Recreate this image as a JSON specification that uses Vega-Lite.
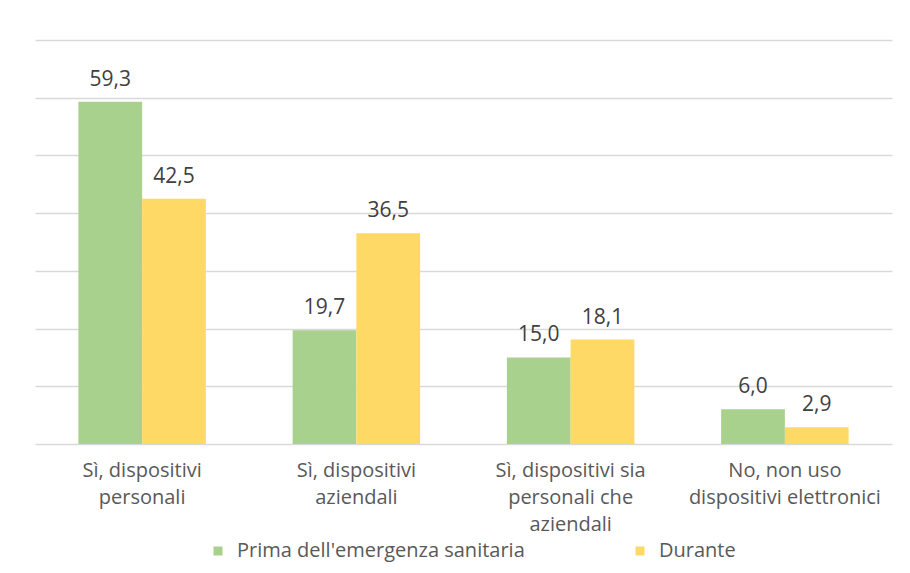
{
  "$schema": "https://vega.github.io/schema/vega-lite/v6.json",
  "width": 857,
  "height": 404,
  "autosize": {"type": "none"},
  "padding": {"left": 35, "top": 40, "right": 18, "bottom": 129},
  "background": "white",
  "config": {
    "locale": {"number": {"decimal": ",", "thousands": ".", "grouping": [3], "currency": ["€", ""]}},
    "view": {"stroke": null},
    "font": "Open Sans"
  },
  "data": {
    "values": [
      {"categoria": "Sì, dispositivi personali", "periodo": "Prima dell'emergenza sanitaria", "valore": 59.3},
      {"categoria": "Sì, dispositivi personali", "periodo": "Durante", "valore": 42.5},
      {"categoria": "Sì, dispositivi aziendali", "periodo": "Prima dell'emergenza sanitaria", "valore": 19.7},
      {"categoria": "Sì, dispositivi aziendali", "periodo": "Durante", "valore": 36.5},
      {"categoria": "Sì, dispositivi sia personali che aziendali", "periodo": "Prima dell'emergenza sanitaria", "valore": 15.0},
      {"categoria": "Sì, dispositivi sia personali che aziendali", "periodo": "Durante", "valore": 18.1},
      {"categoria": "No, non uso dispositivi elettronici", "periodo": "Prima dell'emergenza sanitaria", "valore": 6.0},
      {"categoria": "No, non uso dispositivi elettronici", "periodo": "Durante", "valore": 2.9}
    ]
  },
  "encoding": {
    "x": {
      "field": "categoria",
      "type": "nominal",
      "sort": null,
      "scale": {"paddingInner": 0.405, "paddingOuter": 0.2025},
      "axis": {
        "title": null,
        "labelAngle": 0,
        "ticks": false,
        "domainColor": "#D9D9D9",
        "domainWidth": 1.5,
        "labelColor": "#595959",
        "labelFontSize": 20,
        "labelPadding": 16,
        "labelLineHeight": 27,
        "labelBaseline": "top",
        "labelLimit": 0,
        "labelExpr": "datum.value == 'Sì, dispositivi personali' ? ['Sì, dispositivi', 'personali'] : datum.value == 'Sì, dispositivi aziendali' ? ['Sì, dispositivi', 'aziendali'] : datum.value == 'Sì, dispositivi sia personali che aziendali' ? ['Sì, dispositivi sia', 'personali che', 'aziendali'] : ['No, non uso', 'dispositivi elettronici']"
      }
    },
    "xOffset": {
      "field": "periodo",
      "type": "nominal",
      "sort": ["Prima dell'emergenza sanitaria", "Durante"],
      "scale": {"paddingInner": 0, "paddingOuter": 0}
    },
    "y": {
      "field": "valore",
      "type": "quantitative",
      "scale": {"domain": [0, 70], "nice": false},
      "axis": {
        "title": null,
        "labels": false,
        "ticks": false,
        "domain": false,
        "grid": true,
        "gridColor": "#D9D9D9",
        "gridWidth": 1.5,
        "values": [10, 20, 30, 40, 50, 60, 70]
      }
    }
  },
  "layer": [
    {
      "mark": {"type": "bar"},
      "encoding": {
        "color": {
          "field": "periodo",
          "type": "nominal",
          "sort": ["Prima dell'emergenza sanitaria", "Durante"],
          "scale": {"domain": ["Prima dell'emergenza sanitaria", "Durante"], "range": ["#A9D18E", "#FFD966"]},
          "legend": {
            "title": null,
            "orient": "none",
            "legendX": 173,
            "legendY": 501,
            "direction": "horizontal",
            "symbolType": "square",
            "symbolSize": 81,
            "symbolStrokeWidth": 0,
            "labelFontSize": 20,
            "labelColor": "#595959",
            "labelLimit": 0,
            "columnPadding": 105,
            "labelOffset": 9
          }
        }
      }
    },
    {
      "mark": {"type": "text", "baseline": "alphabetic", "dy": -16, "fontSize": 21, "color": "#404040"},
      "encoding": {
        "text": {"field": "valore", "type": "quantitative", "format": ".1f"}
      }
    }
  ]
}
